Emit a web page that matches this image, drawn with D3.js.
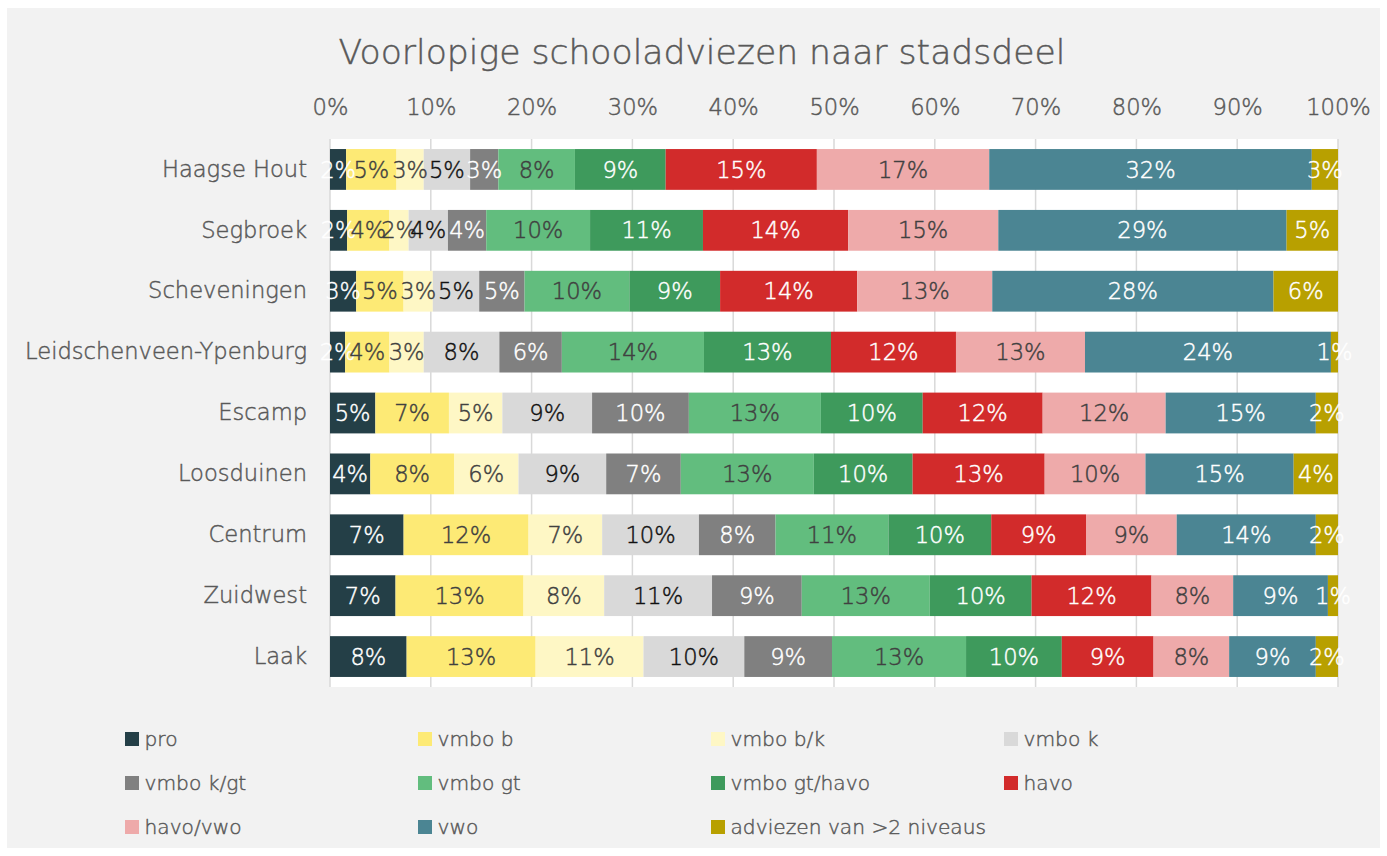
<!DOCTYPE html>
<html>
<head>
<meta charset="utf-8">
<script src="https://cdn.jsdelivr.net/npm/d3@7"></script>
<style>
  html, body { margin: 0; padding: 0; background: #ffffff; }
  svg { display: block; font-family: "DejaVu Sans", sans-serif; }
</style>
</head>
<body>
<svg id="chart" width="1387" height="856"></svg>
<script>
// ---------- data ----------
const title = "Voorlopige schooladviezen naar stadsdeel";
const districts = ["Haagse Hout", "Segbroek", "Scheveningen", "Leidschenveen-Ypenburg", "Escamp", "Loosduinen", "Centrum", "Zuidwest", "Laak"];
const seriesNames = ["pro", "vmbo b", "vmbo b/k", "vmbo k", "vmbo k/gt", "vmbo gt", "vmbo gt/havo", "havo", "havo/vwo", "vwo", "adviezen van >2 niveaus"];
const seriesColors = ["#243f47", "#fdea75", "#fef7c5", "#d9d9d9", "#808080", "#62bd7e", "#3e9a5c", "#d22b2b", "#eeaaaa", "#4b8593", "#b8a000"];
const labelColors = ["#ffffff", "#404040", "#404040", "#111111", "#ffffff", "#404040", "#ffffff", "#ffffff", "#404040", "#ffffff", "#ffffff"];
// percentage per district (rows) for each series (columns, same order as seriesNames)
const haagseHout   = [1.6, 5.0, 2.7, 4.6, 2.8, 7.6, 9.0, 15.0, 17.1, 32.0, 2.6];
const segbroek     = [1.7, 4.2, 1.9, 3.9, 3.8, 10.3, 11.2, 14.4, 14.9, 28.6, 5.1];
const scheveningen = [2.6, 4.7, 2.9, 4.6, 4.5, 10.4, 9.0, 13.6, 13.4, 27.9, 6.4];
const leidschenveen= [1.5, 4.4, 3.4, 7.5, 6.2, 14.1, 12.6, 12.4, 12.8, 24.4, 0.7];
const escamp       = [4.5, 7.3, 5.3, 8.9, 9.6, 13.1, 10.1, 11.9, 12.2, 14.9, 2.2];
const loosduinen   = [4.0, 8.3, 6.4, 8.7, 7.4, 13.2, 9.8, 13.1, 10.0, 14.7, 4.4];
const centrum      = [7.3, 12.4, 7.3, 9.6, 7.6, 11.2, 10.2, 9.4, 9.0, 13.8, 2.2];
const zuidwest     = [6.5, 12.7, 8.0, 10.7, 8.9, 12.7, 10.1, 11.9, 8.1, 9.4, 1.0];
const laak         = [7.6, 12.8, 10.7, 10.0, 8.7, 13.3, 9.5, 9.1, 7.5, 8.6, 2.2];
const rows = [haagseHout, segbroek, scheveningen, leidschenveen, escamp, loosduinen, centrum, zuidwest, laak];
const xTicks = [0, 10, 20, 30, 40, 50, 60, 70, 80, 90, 100];

// ---------- layout ----------
const svg = d3.select("#chart");
const plot = { left: 330, right: 1338, top: 139, bottom: 687 };
const textGray = "#595959";
const FONT = "'DejaVu Sans', sans-serif";
const thicken = (sel, color) => sel.attr("stroke", color).attr("stroke-width", 0.45).attr("paint-order", "stroke");

svg.append("rect").attr("x", 7).attr("y", 8).attr("width", 1373).attr("height", 840).attr("fill", "#f2f2f2");
svg.append("rect").attr("x", plot.left).attr("y", plot.top)
  .attr("width", plot.right - plot.left).attr("height", plot.bottom - plot.top).attr("fill", "#ffffff");

svg.append("text").attr("x", 702).attr("y", 64).attr("text-anchor", "middle")
  .attr("font-size", 34.6).attr("font-weight", 200).attr("fill", textGray).text(title)
  .call(thicken, textGray);

const x = d3.scaleLinear().domain([0, 100]).range([plot.left, plot.right]);
const y = d3.scaleBand().domain(districts).range([plot.top, plot.bottom]).paddingInner(0.33).paddingOuter(0.165);

svg.append("g").selectAll("line").data(xTicks).join("line")
  .attr("x1", d => x(d)).attr("x2", d => x(d))
  .attr("y1", plot.top).attr("y2", plot.bottom)
  .attr("stroke", "#d9d9d9").attr("stroke-width", 1.5);

const xAxis = d3.axisTop(x).tickValues(xTicks).tickFormat(d => d + "%").tickSize(0).tickPadding(0);
const gx = svg.append("g").attr("transform", `translate(0,${115})`).call(xAxis);
gx.select(".domain").remove();
gx.selectAll("text").attr("font-size", 22.6).attr("font-family", FONT).attr("font-weight", 200).attr("fill", textGray).attr("dy", 0)
  .call(thicken, textGray);

const yAxis = d3.axisLeft(y).tickSize(0).tickPadding(23);
const gy = svg.append("g").attr("transform", `translate(${plot.left},0)`).call(yAxis);
gy.select(".domain").remove();
gy.selectAll("text").attr("font-size", 22.6).attr("font-family", FONT).attr("font-weight", 200).attr("fill", textGray)
  .call(thicken, textGray);

const table = districts.map((name, i) => {
  const o = { name };
  seriesNames.forEach((s, j) => { o[s] = rows[i][j]; });
  return o;
});
const stacked = d3.stack().keys(seriesNames)(table);

const layers = svg.append("g").selectAll("g").data(stacked).join("g")
  .attr("fill", (d, i) => seriesColors[i]);
layers.selectAll("rect").data(d => d).join("rect")
  .attr("x", d => x(d[0])).attr("width", d => x(d[1]) - x(d[0]))
  .attr("y", d => y(d.data.name)).attr("height", y.bandwidth());

const lab = svg.append("g").selectAll("g").data(stacked).join("g")
  .attr("fill", (d, i) => labelColors[i])
  .attr("stroke", (d, i) => labelColors[i]).attr("stroke-width", 0.45).attr("paint-order", "stroke");
lab.selectAll("text").data(d => d.map(v => ({ v, key: d.key }))).join("text")
  .attr("x", d => (x(d.v[0]) + x(d.v[1])) / 2)
  .attr("y", d => y(d.v.data.name) + y.bandwidth() / 2)
  .attr("dy", "0.36em")
  .attr("text-anchor", "middle")
  .attr("font-size", 22.6).attr("font-weight", 200)
  .text(d => Math.round(d.v.data[d.key]) + "%");

const legX = [125, 418, 711, 1004];
const legY = [739, 783, 827];
const leg = svg.append("g").selectAll("g").data(seriesNames).join("g")
  .attr("transform", (d, i) => `translate(${legX[i % 4]},${legY[Math.floor(i / 4)]})`);
leg.append("rect").attr("x", 0).attr("y", -7).attr("width", 14).attr("height", 14)
  .attr("fill", (d, i) => seriesColors[i]);
leg.append("text").attr("x", 19.5).attr("y", 0).attr("dy", "0.35em")
  .attr("font-size", 20.2).attr("font-weight", 200).attr("fill", textGray).text(d => d)
  .call(thicken, textGray);
</script>
</body>
</html>
